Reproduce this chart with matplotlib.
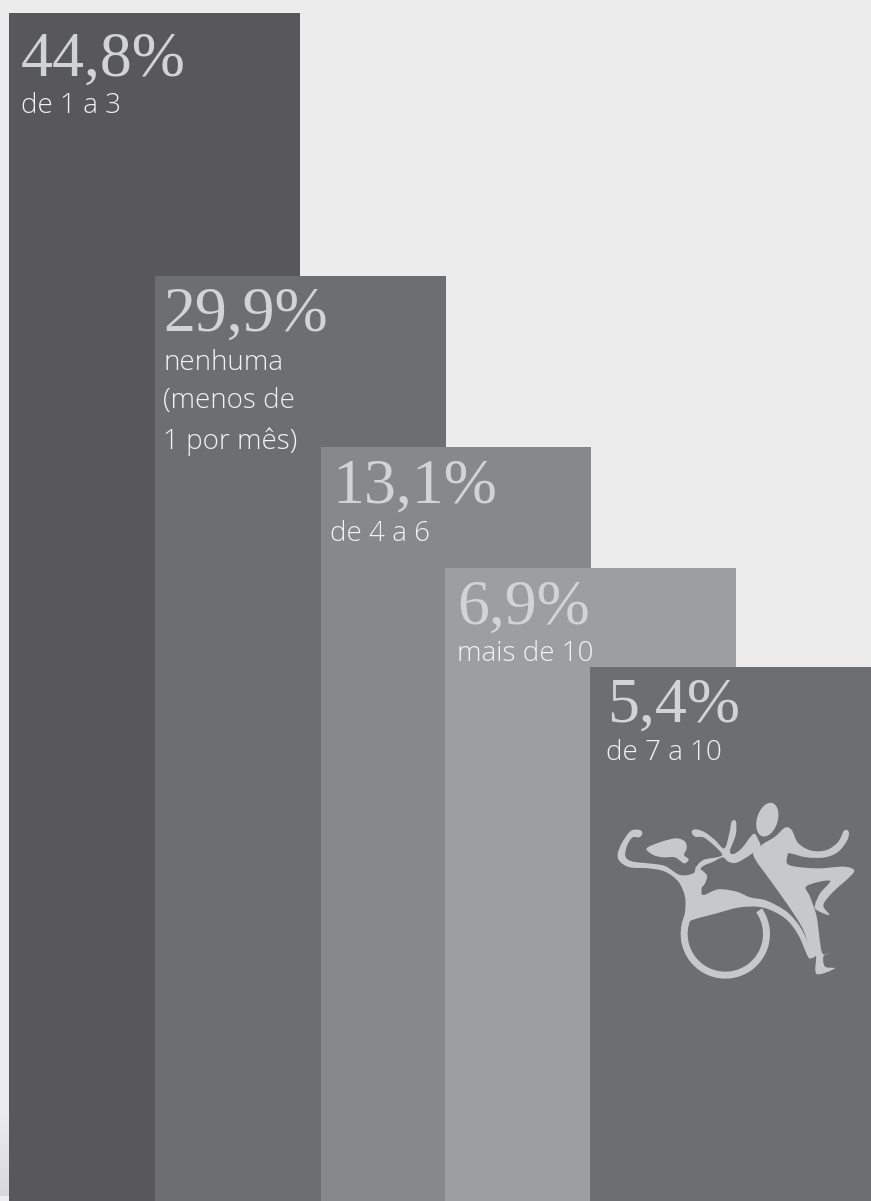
import numpy as np
import matplotlib
matplotlib.use("Agg")
import matplotlib.pyplot as plt
from matplotlib.path import Path
from matplotlib.patches import PathPatch, Wedge, Ellipse

categories = ["de 1 a 3", "nenhuma\n(menos de\n1 por mês)", "de 4 a 6", "mais de 10", "de 7 a 10"]
values = [44.8, 29.9, 13.1, 6.9, 5.4]
value_labels = ["44,8%", "29,9%", "13,1%", "6,9%", "5,4%"]

colors = ["#58585a", "#6d6e70", "#87888a", "#9d9ea0", "#6d6e70"]
lefts = [9, 155, 321, 445, 590]
widths = [291, 291, 270, 291, 281]

# the bar heights are stepped, not proportional, so the y scale is piecewise
scale_in = np.array([0, 5.4, 6.9, 13.1, 29.9, 44.8, 46.0])
scale_out = np.array([0, 534, 633, 754, 925, 1188, 1201])


def forward(v):
    return np.interp(v, scale_in, scale_out)


def inverse(p):
    return np.interp(p, scale_out, scale_in)


fig = plt.figure(figsize=(8.71, 12.01), dpi=100, facecolor="#ececec")

# background, darkening towards the bottom edge
bg = fig.add_axes([0, 0, 1, 1], zorder=0)
bg.axis("off")
shade = np.full(1201, 236.0)
shade[1110:1196] = np.linspace(236, 216, 86)
shade[1196:] = 238
bg.imshow(shade[:, None], cmap="gray", vmin=0, vmax=255, aspect="auto", extent=(0, 871, 1201, 0))

ax = fig.add_axes([0, 0, 1, 1], zorder=1)
ax.patch.set_alpha(0)
ax.set_yscale("function", functions=(forward, inverse))
ax.set_xlim(0, 871)
ax.set_ylim(0, 46.0)
ax.axis("off")
ax.bar(lefts, values, width=widths, align="edge", color=colors, linewidth=0)

# overlay in pixel coordinates for the text and the emblem
px = fig.add_axes([0, 0, 1, 1], zorder=2)
px.patch.set_alpha(0)
px.set_xlim(0, 871)
px.set_ylim(1201, 0)
px.axis("off")

value_x = [21, 163, 332, 457, 607]
label_x = [21, 163, 330, 457, 606]
value_base = [76, 331, 503, 624, 722]
label_base = [[113], [370, 408, 449], [541], [661], [760]]
sans = ["Open Sans", "DejaVu Sans"]

for i in range(len(values)):
    px.text(value_x[i], value_base[i], value_labels[i], family="Liberation Serif",
            fontsize=46, color="#d1d3d4", va="baseline", ha="left")
    for line, y in zip(categories[i].split("\n"), label_base[i]):
        px.text(label_x[i], y, line, family=sans, fontweight="light",
                fontsize=20, color="#f1f2f2", va="baseline", ha="left")


def emblem_xy(pts):
    pts = np.asarray(pts, dtype=float)
    return pts / 3 + np.array([590, 780])


def blob(pts, color="#c7c8ca"):
    # closed Catmull-Rom outline through the given points
    p = emblem_xy(pts)
    n = len(p)
    verts = [p[0]]
    codes = [Path.MOVETO]
    for k in range(n):
        p0, p1, p2, p3 = p[k - 1], p[k], p[(k + 1) % n], p[(k + 2) % n]
        verts += [p1 + (p2 - p0) / 6, p2 - (p3 - p1) / 6, p2]
        codes += [Path.CURVE4] * 3
    px.add_patch(PathPatch(Path(verts, codes), facecolor=color, edgecolor="none"))


emblem = "#c7c8ca"

# wheel, angles run clockwise on screen because y is flipped
cx, cy = emblem_xy([(406, 462)])[0]
px.add_patch(Wedge((cx, cy), 134 / 3, -35, 200, width=21 / 3, facecolor=emblem, edgecolor="none"))

# seated figure: arm, torso, seat and footrest
blob([(128, 150), (150, 150), (157, 160), (148, 172), (128, 172), (112, 195), (106, 228),
      (125, 244), (175, 250), (225, 258), (270, 285), (310, 280), (320, 262), (350, 285),
      (345, 310), (335, 325), (340, 345), (385, 328), (440, 335), (480, 352), (530, 362),
      (590, 395), (630, 440), (655, 490), (668, 525), (655, 532), (625, 465), (585, 415),
      (520, 383), (450, 382), (380, 400), (302, 422), (290, 440), (274, 450), (279, 420),
      (285, 395), (285, 350), (265, 305), (225, 275), (175, 265), (120, 262), (90, 245),
      (83, 222), (95, 190), (115, 160)])

# seated figure: head
blob([(170, 205), (215, 185), (260, 175), (285, 185), (290, 205), (282, 225), (296, 238),
      (282, 250), (255, 232), (220, 232), (190, 225)])

# crossing arms
blob([(305, 155), (318, 148), (345, 157), (375, 180), (403, 205), (418, 160), (425, 125),
      (438, 125), (437, 165), (420, 212), (430, 222), (455, 205), (490, 162), (505, 180),
      (510, 200), (480, 225), (440, 248), (415, 245), (398, 232), (370, 245), (340, 258),
      (322, 275), (318, 262), (340, 240), (388, 230), (395, 220), (365, 190), (340, 172),
      (315, 170)])

# runner: head and body
px.add_patch(Ellipse(tuple(emblem_xy([(532, 119)])[0]), 62 / 3, 104 / 3, angle=17,
                     facecolor=emblem, edgecolor="none"))
blob([(515, 195), (555, 170), (585, 143), (605, 150), (625, 190), (665, 212), (710, 210),
      (745, 185), (762, 152), (776, 155), (772, 180), (745, 215), (705, 232), (650, 232),
      (600, 220), (593, 225), (597, 255), (680, 265), (760, 260), (792, 270), (780, 290),
      (730, 335), (700, 375), (718, 405), (680, 390), (675, 375), (690, 340), (720, 302),
      (650, 318), (660, 350), (680, 410), (695, 515), (715, 520), (700, 530), (705, 560),
      (735, 565), (680, 582), (678, 530), (665, 530), (640, 450), (590, 370), (540, 300),
      (490, 225)])

fig.savefig("out.png", dpi=100, facecolor=fig.get_facecolor())
